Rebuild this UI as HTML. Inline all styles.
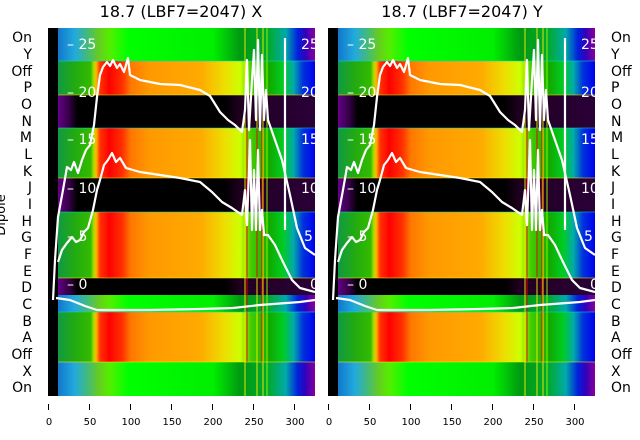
<!DOCTYPE html>
<html><head><meta charset="utf-8"><style>
html,body{margin:0;padding:0;background:#fff;}
svg{display:block;font-family:"DejaVu Sans","Liberation Sans",sans-serif;}
</style></head><body>
<svg width="640" height="440" viewBox="0 0 640 440" xmlns="http://www.w3.org/2000/svg">
<defs>
<linearGradient id="warm" gradientUnits="userSpaceOnUse" x1="48" x2="315" y1="0" y2="0">
<stop offset="0.037" stop-color="#119944"/>
<stop offset="0.10" stop-color="#22aa11"/>
<stop offset="0.16" stop-color="#33bb00"/>
<stop offset="0.17" stop-color="#99dd00"/>
<stop offset="0.18" stop-color="#ffbb00"/>
<stop offset="0.195" stop-color="#ff3300"/>
<stop offset="0.23" stop-color="#ff0000"/>
<stop offset="0.28" stop-color="#ff3300"/>
<stop offset="0.31" stop-color="#ff7700"/>
<stop offset="0.38" stop-color="#ff9900"/>
<stop offset="0.57" stop-color="#ffaa00"/>
<stop offset="0.66" stop-color="#eedd00"/>
<stop offset="0.72" stop-color="#ccff00"/>
<stop offset="0.76" stop-color="#44cc00"/>
<stop offset="0.83" stop-color="#11aa00"/>
<stop offset="0.88" stop-color="#00cc22"/>
<stop offset="0.92" stop-color="#00aaaa"/>
<stop offset="0.955" stop-color="#0033dd"/>
<stop offset="1" stop-color="#0000ee"/>
</linearGradient>
<linearGradient id="cool" gradientUnits="userSpaceOnUse" x1="48" x2="315" y1="0" y2="0">
<stop offset="0.037" stop-color="#1177cc"/>
<stop offset="0.10" stop-color="#22aadd"/>
<stop offset="0.15" stop-color="#44bb77"/>
<stop offset="0.19" stop-color="#66cc22"/>
<stop offset="0.23" stop-color="#55ee00"/>
<stop offset="0.30" stop-color="#00ff00"/>
<stop offset="0.62" stop-color="#00ee00"/>
<stop offset="0.72" stop-color="#009911"/>
<stop offset="0.83" stop-color="#00aa33"/>
<stop offset="0.89" stop-color="#00aaaa"/>
<stop offset="0.935" stop-color="#0022dd"/>
<stop offset="0.965" stop-color="#3300bb"/>
<stop offset="1" stop-color="#880099"/>
</linearGradient>
<linearGradient id="dark" gradientUnits="userSpaceOnUse" x1="48" x2="315" y1="0" y2="0">
<stop offset="0.037" stop-color="#660088"/>
<stop offset="0.08" stop-color="#330044"/>
<stop offset="0.11" stop-color="#000000"/>
<stop offset="0.66" stop-color="#000000"/>
<stop offset="0.72" stop-color="#200020"/>
<stop offset="1" stop-color="#2a0038"/>
</linearGradient>
<clipPath id="pc"><rect x="48" y="28" width="267" height="368"/></clipPath>
<g id="panel">
<g clip-path="url(#pc)">
<rect x="48" y="28" width="267" height="33" fill="url(#cool)"/>
<rect x="48" y="61" width="267" height="34" fill="url(#warm)"/>
<rect x="48" y="95" width="267" height="33" fill="url(#dark)"/>
<rect x="48" y="128" width="267" height="50" fill="url(#warm)"/>
<rect x="48" y="178" width="267" height="34" fill="url(#dark)"/>
<rect x="48" y="212" width="267" height="66" fill="url(#warm)"/>
<rect x="48" y="278" width="267" height="17" fill="url(#dark)"/>
<rect x="48" y="295" width="267" height="17" fill="url(#cool)"/>
<rect x="48" y="312" width="267" height="50" fill="url(#warm)"/>
<rect x="48" y="362" width="267" height="34" fill="url(#cool)"/>
<g stroke-width="1" opacity="0.9">
<line x1="245" y1="28" x2="245" y2="396" stroke="#ffee00"/>
<line x1="257" y1="28" x2="257" y2="396" stroke="#ffee00"/>
<line x1="263" y1="28" x2="263" y2="396" stroke="#ffee00"/>
<line x1="247" y1="128" x2="247" y2="362" stroke="#ee0000"/>
<line x1="257" y1="128" x2="257" y2="278" stroke="#ee0000"/>
<line x1="262" y1="128" x2="262" y2="362" stroke="#ee0000"/>
<line x1="267" y1="28" x2="267" y2="396" stroke="#99ff00"/>
</g>
<g stroke="#00ddcc" stroke-width="0.8" opacity="0.7">
<line x1="58" y1="61" x2="315" y2="61"/><line x1="58" y1="128" x2="315" y2="128"/>
<line x1="58" y1="212" x2="315" y2="212"/><line x1="58" y1="312" x2="315" y2="312"/>
</g>
<g stroke="#ffee00" stroke-width="0.8" opacity="0.7">
<line x1="58" y1="95" x2="315" y2="95"/><line x1="58" y1="178" x2="315" y2="178"/>
<line x1="58" y1="278" x2="315" y2="278"/><line x1="58" y1="362" x2="315" y2="362"/>
</g>
<rect x="48" y="28" width="10" height="368" fill="#000"/>
<g fill="#fff" font-size="14">
<text x="67" y="49">– 25</text><text x="67" y="97">– 20</text><text x="67" y="144">– 15</text>
<text x="67" y="193">– 10</text><text x="67" y="241">– 5</text><text x="67" y="289">– 0</text>
<text x="301" y="49">25</text><text x="301" y="97">20</text><text x="301" y="144">15</text>
<text x="301" y="193">10</text><text x="304" y="241">5</text><text x="310" y="289">0</text>
</g>
<g fill="none" stroke="#fff" stroke-width="2.2" stroke-linejoin="round">
<polyline points="53,300 55,260 58,217 63,190 67,167 71,170 74,162 78,173 82,160 86,150 90,145 94,125 97,97 100,75 103,67 107,62 110,66 113,60 117,68 120,64 124,72 128,58 130,75 140,80 160,84 180,85 200,90 210,96 220,112 228,120 235,125 242,132 245,110 247,60 249,130 252,80 254,50 256,120 258,40 260,130 262,55 264,120 266,90 268,120 275,140 282,160 290,195 297,228 305,248 315,255"/>
<polyline points="58,262 62,250 67,243 72,237 76,242 80,240 84,232 88,228 93,210 97,190 100,180 104,165 108,160 112,153 116,162 120,158 126,168 140,172 160,175 180,178 200,182 212,192 222,202 232,208 242,215 245,190 247,225 250,140 252,230 254,170 256,230 258,150 260,230 262,210 264,235 268,235 275,245 283,262 292,280 300,288 315,292"/>
<polyline points="56,298 70,300 85,306 97,310 150,310 200,309 233,308 260,305 300,302 315,300"/>
<polyline points="285,38 285,230"/>
</g>
</g>
<g stroke="#000" stroke-width="1"><line x1="48.5" y1="404" x2="48.5" y2="410"/><line x1="89.5" y1="404" x2="89.5" y2="410"/><line x1="130.5" y1="404" x2="130.5" y2="410"/><line x1="171.5" y1="404" x2="171.5" y2="410"/><line x1="212.5" y1="404" x2="212.5" y2="410"/><line x1="253.5" y1="404" x2="253.5" y2="410"/><line x1="294.5" y1="404" x2="294.5" y2="410"/></g>
<g font-size="10" fill="#000" text-anchor="middle">
<text x="49" y="425">0</text><text x="90" y="425">50</text><text x="131" y="425">100</text><text x="172" y="425">150</text><text x="213" y="425">200</text><text x="254" y="425">250</text><text x="295" y="425">300</text>
</g>
</g>
</defs>
<use href="#panel"/>
<use href="#panel" transform="translate(280,0)"/>
<g font-size="16" fill="#000" text-anchor="middle">
<text x="181" y="17">18.7 (LBF7=2047) X</text>
<text x="462" y="17">18.7 (LBF7=2047) Y</text>
</g>
<g font-size="14" fill="#000" text-anchor="end">
<text x="32" y="42">On</text><text x="32" y="59">Y</text><text x="32" y="76">Off</text><text x="32" y="92">P</text><text x="32" y="109">O</text><text x="32" y="126">N</text><text x="32" y="142">M</text><text x="32" y="159">L</text><text x="32" y="176">K</text><text x="32" y="192">J</text><text x="32" y="209">I</text><text x="32" y="226">H</text><text x="32" y="242">G</text><text x="32" y="259">F</text><text x="32" y="276">E</text><text x="32" y="292">D</text><text x="32" y="309">C</text><text x="32" y="326">B</text><text x="32" y="342">A</text><text x="32" y="359">Off</text><text x="32" y="376">X</text><text x="32" y="392">On</text>
</g>
<g font-size="14" fill="#000" text-anchor="start">
<text x="611" y="42">On</text><text x="611" y="59">Y</text><text x="611" y="76">Off</text><text x="611" y="92">P</text><text x="611" y="109">O</text><text x="611" y="126">N</text><text x="611" y="142">M</text><text x="611" y="159">L</text><text x="611" y="176">K</text><text x="611" y="192">J</text><text x="611" y="209">I</text><text x="611" y="226">H</text><text x="611" y="242">G</text><text x="611" y="259">F</text><text x="611" y="276">E</text><text x="611" y="292">D</text><text x="611" y="309">C</text><text x="611" y="326">B</text><text x="611" y="342">A</text><text x="611" y="359">Off</text><text x="611" y="376">X</text><text x="611" y="392">On</text>
</g>
<text x="5" y="215" font-size="13" fill="#000" text-anchor="middle" transform="rotate(-90 5 215)">Dipole</text>
</svg>
</body></html>
